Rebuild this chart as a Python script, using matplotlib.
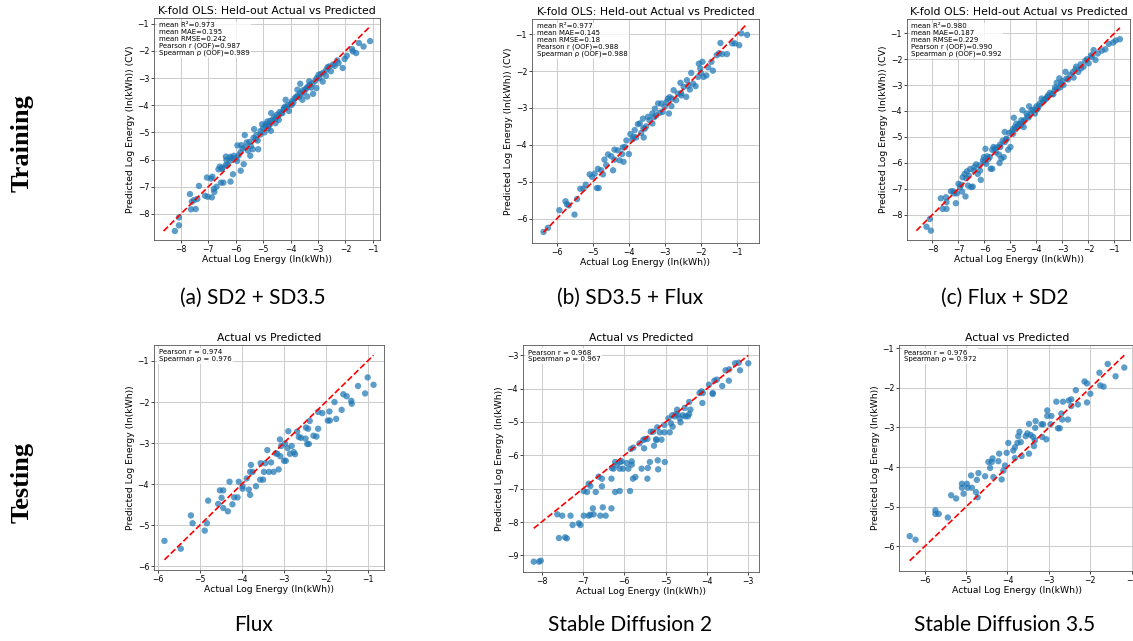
import matplotlib
matplotlib.use('Agg')
import matplotlib.pyplot as plt
import numpy as np

# ---- data (actual, predicted) ----

# (a) SD2 + SD3.5, k-fold held-out
a_actual = [-8.22, -8.07, -8.07, -7.67, -7.63, -7.46, -7.52, -7.34, -7.12, -7.05, -7.02, -6.87, -6.85,
            -6.80, -6.78, -6.70, -6.63, -6.58, -6.54, -6.45, -6.48, -6.36, -6.36, -6.34, -6.19, -6.10,
            -6.21, -6.07, -5.83, -5.82, -5.71, -5.94, -5.80, -5.67, -5.60, -5.55, -5.38, -5.47, -5.28,
            -5.18, -5.10, -5.33, -5.04, -4.92, -4.82, -4.72, -4.74, -4.55, -4.43, -4.30, -4.24, -4.71,
            -4.06, -4.18, -3.96, -3.81, -3.75, -3.65, -3.57, -3.39, -3.32, -3.18, -3.06, -2.98, -2.83,
            -2.71, -2.59, -2.53, -2.39, -2.25, -2.10, -1.95, -2.03, -1.73, -1.61, -1.51, -1.34, -1.10,
            -1.76,
            -5.90, -5.75, -5.65, -5.50, -5.45, -5.35, -5.25, -5.20, -5.10, -5.00, -4.95, -4.90, -4.85,
            -4.80, -4.75, -4.65, -4.60, -4.55, -4.50, -4.45, -4.40, -4.35, -4.25, -4.20, -4.15, -4.10,
            -4.00, -3.95, -3.90, -3.85, -3.75, -3.70, -3.65, -3.60, -3.55, -3.50, -3.45, -3.40, -3.35,
            -3.30, -3.25, -3.20, -3.10, -3.05, -2.95, -2.90, -2.80, -2.70, -2.65, -2.45, -2.30, -6.30,
            -6.15, -6.00, -5.95, -6.20, -6.50, -7.60, -7.40, -6.90]
a_pred = [-8.63, -8.42, -8.13, -7.27, -7.83, -7.82, -7.49, -6.97, -7.33, -6.66, -7.37, -7.39, -6.63,
          -7.08, -7.19, -7.00, -6.36, -6.26, -6.85, -6.85, -6.30, -6.20, -5.89, -6.01, -6.81, -6.54,
          -6.04, -5.86, -5.73, -6.41, -6.17, -5.48, -5.47, -5.10, -5.37, -5.67, -5.62, -5.86, -5.25,
          -5.62, -5.08, -4.88, -4.70, -4.76, -4.85, -4.94, -4.57, -4.66, -4.54, -4.29, -4.11, -4.29,
          -4.21, -3.80, -3.99, -3.71, -3.43, -3.21, -3.80, -3.68, -3.12, -3.58, -3.37, -2.88, -3.13,
          -2.92, -2.57, -2.75, -2.55, -2.45, -2.63, -2.18, -2.30, -2.02, -2.08, -1.71, -1.84, -1.64,
          -1.93,
          -5.85, -5.60, -5.55, -5.35, -5.50, -5.20, -5.10, -5.30, -4.95, -4.85, -5.00, -4.70, -4.60,
          -4.75, -4.70, -4.55, -4.45, -4.50, -4.35, -4.40, -4.25, -4.30, -4.15, -4.05, -4.10, -4.00,
          -3.95, -3.85, -3.90, -3.75, -3.65, -3.70, -3.55, -3.60, -3.45, -3.50, -3.40, -3.35, -3.30,
          -3.25, -3.35, -3.20, -3.10, -3.00, -3.00, -2.85, -2.80, -2.70, -2.60, -2.50, -2.35, -6.20,
          -5.95, -5.95, -6.05, -5.90, -6.35, -7.55, -7.45, -6.70]

# (b) SD3.5 + Flux, k-fold held-out
b_actual = [-6.37, -6.25, -5.93, -5.76, -5.72, -5.67, -5.51, -5.44, -5.35, -5.26, -5.20, -5.09, -5.02,
            -4.95, -4.89, -4.84, -4.86, -4.77, -4.72, -4.68, -4.63, -4.58, -4.49, -4.44, -4.40, -4.31,
            -4.26, -4.19, -4.17, -4.15, -4.11, -4.07, -4.00, -3.96, -3.87, -3.84, -3.80, -3.75, -3.70,
            -3.66, -3.59, -3.61, -3.56, -3.52, -3.47, -3.43, -3.35, -3.35, -3.28, -3.24, -3.19, -3.15,
            -3.10, -3.07, -3.01, -2.96, -2.92, -2.89, -2.87, -2.82, -2.76, -2.69, -2.64, -2.57, -2.55,
            -2.48, -2.41, -2.39, -2.31, -2.27, -2.22, -2.15, -2.08, -2.06, -2.02, -1.96, -1.93, -1.85,
            -1.71, -1.67, -1.56, -1.50, -1.46, -1.41, -1.28, -1.13, -1.06, -0.94, -0.88, -0.72,
            -3.90, -3.30, -2.80, -2.55, -2.35, -2.00, -1.80, -4.40, -3.60]
b_pred = [-6.36, -6.25, -5.77, -5.53, -5.61, -5.64, -5.89, -5.47, -5.19, -5.19, -5.08, -4.80, -4.87,
          -4.78, -5.17, -5.17, -4.65, -4.69, -4.80, -4.40, -4.55, -4.26, -4.31, -4.69, -4.13, -4.15,
          -4.42, -4.25, -4.07, -4.46, -4.06, -3.88, -4.25, -3.71, -3.78, -3.60, -3.80, -3.44, -3.42,
          -3.68, -3.80, -3.29, -3.56, -3.50, -3.24, -3.33, -3.15, -3.42, -3.02, -3.20, -2.88, -3.13,
          -2.88, -3.11, -2.97, -2.84, -2.75, -3.15, -2.71, -2.95, -2.52, -2.79, -2.61, -2.32, -2.66,
          -2.43, -2.70, -2.25, -2.50, -2.05, -2.34, -2.41, -2.16, -1.80, -1.93, -1.75, -2.16, -2.12,
          -1.75, -1.99, -1.57, -1.52, -1.24, -1.54, -1.54, -1.25, -1.25, -1.30, -0.98, -1.02,
          -3.85, -3.25, -2.75, -2.60, -2.40, -2.05, -1.90, -4.40, -3.55]

# (c) Flux + SD2, k-fold held-out
c_actual = [-8.23, -8.10, -8.06, -7.68, -7.61, -7.48, -7.46, -7.46, -7.29, -7.16, -7.10, -7.06, -7.00,
            -6.94, -6.86, -6.84, -6.76, -6.73, -6.67, -6.63, -6.55, -6.51, -6.45, -6.39, -6.32, -6.26,
            -6.19, -6.14, -6.17, -6.06, -6.02, -5.96, -5.93, -5.80, -5.76, -5.70, -5.65, -5.57, -5.44,
            -5.42, -5.35, -5.26, -5.39, -5.22, -5.16, -5.09, -5.00, -5.22, -4.90, -4.83, -4.87, -4.77,
            -4.64, -4.58, -4.49, -4.38, -4.28, -4.19, -4.54, -4.06, -4.00, -3.87, -3.80, -3.71, -3.58,
            -3.48, -3.35, -3.28, -3.22, -3.12, -3.09, -2.96, -2.88, -2.78, -2.70, -2.57, -2.47, -2.39,
            -2.19, -1.99, -1.86, -1.73, -1.64, -1.48, -1.35, -1.22, -1.05, -0.95, -0.79, -2.29, -2.12,
            -1.80,
            -6.00, -5.90, -5.85, -5.60, -5.50, -5.30, -5.15, -5.05, -4.95, -4.90, -4.80, -4.70, -4.65,
            -4.50, -4.45, -4.35, -4.30, -4.20, -4.10, -3.95, -3.90, -3.75, -3.65, -3.60, -3.55, -3.40,
            -3.30, -3.20, -3.05, -3.00, -2.85, -2.60, -2.50, -2.30, -2.05, -1.90, -6.60, -6.40, -6.70,
            -6.90, -7.20, -5.70, -5.40, -4.60, -4.00]
c_pred = [-8.47, -8.17, -8.62, -7.37, -7.78, -7.33, -7.52, -7.78, -7.10, -7.18, -7.56, -7.18, -6.81,
          -6.94, -7.11, -6.56, -6.43, -7.30, -6.33, -6.88, -6.24, -6.94, -6.92, -6.17, -6.06, -6.43,
          -6.10, -6.66, -6.30, -5.91, -5.78, -5.46, -6.04, -5.78, -6.23, -6.23, -5.39, -5.59, -5.68,
          -6.01, -5.84, -5.78, -5.39, -5.20, -5.07, -5.50, -5.39, -4.81, -4.88, -4.62, -4.26, -4.49,
          -4.51, -4.36, -4.62, -4.10, -3.82, -3.97, -3.97, -4.10, -3.82, -3.71, -3.52, -3.58, -3.45,
          -3.30, -3.35, -3.09, -2.91, -2.74, -3.09, -3.00, -2.49, -2.78, -2.61, -2.71, -2.29, -2.49,
          -2.29, -2.16, -1.90, -2.03, -1.78, -1.67, -1.62, -1.41, -1.36, -1.28, -1.23, -2.36, -2.06,
          -1.65,
          -5.95, -5.75, -5.85, -5.45, -5.40, -5.15, -5.10, -4.85, -4.80, -4.70, -4.70, -4.60, -4.50,
          -4.40, -4.35, -4.20, -4.25, -4.10, -3.95, -3.90, -3.80, -3.65, -3.55, -3.50, -3.40, -3.35,
          -3.20, -3.15, -2.95, -2.85, -2.75, -2.50, -2.40, -2.20, -2.00, -1.85, -6.50, -6.30, -6.60,
          -6.85, -7.10, -5.50, -5.30, -4.55, -3.95]

# Flux, testing
d_actual = [-5.84, -5.45, -5.21, -5.17, -4.88, -4.83, -4.80, -4.56, -4.52, -4.48, -4.44, -4.44, -4.33,
            -4.29, -4.22, -4.18, -4.10, -4.07, -3.98, -3.98, -3.88, -3.83, -3.80, -3.78, -3.80, -3.74,
            -3.66, -3.56, -3.55, -3.49, -3.47, -3.44, -3.39, -3.35, -3.30, -3.24, -3.19, -3.15, -3.12,
            -3.09, -3.08, -3.06, -2.99, -2.97, -2.95, -2.91, -2.89, -2.85, -2.81, -2.76, -2.73, -2.68,
            -2.64, -2.59, -2.48, -2.47, -2.44, -2.42, -2.40, -2.38, -2.29, -2.22, -2.18, -2.18, -2.08,
            -1.95, -1.90, -1.91, -1.79, -1.75, -1.62, -1.58, -1.50, -1.39, -1.38, -1.23, -1.06, -1.00,
            -0.86]
d_pred = [-5.38, -5.57, -4.76, -4.95, -5.13, -4.95, -4.40, -4.48, -4.15, -4.33, -4.15, -4.58, -4.66,
          -3.94, -4.49, -4.32, -4.32, -3.94, -4.11, -4.05, -3.86, -4.13, -4.26, -3.53, -3.70, -3.70,
          -4.05, -3.89, -3.49, -3.89, -3.70, -3.49, -3.17, -3.70, -3.47, -3.70, -3.25, -3.26, -3.64,
          -2.91, -3.32, -3.07, -3.43, -3.01, -3.43, -3.12, -2.71, -3.26, -3.07, -3.22, -3.27, -2.72,
          -2.85, -2.87, -2.89, -2.62, -3.02, -2.65, -3.02, -2.46, -2.82, -2.84, -2.24, -2.65, -2.27,
          -2.45, -2.45, -2.23, -2.00, -2.41, -2.19, -1.81, -1.86, -1.97, -2.04, -1.61, -1.79, -1.40,
          -1.58]

# Stable Diffusion 2, testing
e_actual = [-8.19, -8.06, -8.02, -7.58, -7.43, -7.39, -7.62, -7.50, -7.30, -7.25, -7.10, -7.06, -6.98,
            -6.98, -6.90, -6.86, -6.82, -6.76, -6.74, -6.69, -6.86, -6.82, -6.62, -6.58, -6.54, -6.52,
            -6.54, -6.45, -6.31, -6.31, -6.30, -6.26, -6.22, -6.22, -6.18, -6.11, -6.11, -6.10, -6.06,
            -6.03, -5.94, -5.90, -5.86, -5.84, -5.82, -5.82, -5.79, -5.78, -5.73, -5.63, -5.58, -5.54,
            -5.52, -5.50, -5.44, -5.44, -5.43, -5.38, -5.36, -5.30, -5.28, -5.23, -5.22, -5.20, -5.18,
            -5.19, -5.14, -5.10, -5.03, -5.03, -5.02, -4.93, -4.90, -4.87, -4.84, -4.83, -4.78, -4.75,
            -4.72, -4.70, -4.66, -4.64, -4.58, -4.54, -4.52, -4.46, -4.43, -4.40, -4.43, -4.18, -4.13,
            -4.10, -4.11, -3.95, -3.86, -3.86, -3.82, -3.76, -3.63, -3.55, -3.47, -3.46, -3.32, -3.23,
            -3.20, -3.00]
e_pred = [-9.19, -9.19, -9.16, -8.48, -8.46, -8.49, -7.77, -7.81, -7.81, -8.09, -8.04, -8.09, -7.07,
          -7.81, -7.10, -7.81, -7.78, -7.59, -7.77, -7.10, -6.85, -6.92, -6.64, -7.81, -6.93, -7.56,
          -6.70, -7.81, -6.70, -7.59, -6.38, -6.40, -7.10, -6.20, -6.28, -7.07, -6.40, -6.20, -6.18,
          -6.40, -6.23, -6.40, -7.07, -5.81, -6.18, -6.28, -6.70, -5.77, -6.65, -5.64, -6.40, -5.54,
          -5.79, -5.51, -5.51, -6.70, -6.38, -6.20, -5.29, -5.29, -5.71, -5.52, -5.54, -5.16, -6.42,
          -6.15, -5.31, -5.53, -5.31, -5.09, -6.20, -4.89, -5.31, -5.04, -4.80, -5.14, -4.83, -4.76,
          -4.63, -4.78, -4.89, -5.01, -4.80, -4.58, -4.83, -4.83, -4.40, -4.63, -4.76, -4.13, -4.08,
          -4.13, -4.43, -3.88, -4.16, -4.13, -3.76, -3.73, -3.92, -3.45, -3.76, -3.42, -3.24, -3.22,
          -3.45, -3.24]

# Stable Diffusion 3.5, testing
f_actual = [-6.36, -6.22, -5.74, -5.74, -5.66, -5.44, -5.36, -5.24, -5.10, -5.10, -5.06, -4.98, -4.96,
            -4.88, -4.86, -4.76, -4.74, -4.72, -4.70, -4.54, -4.46, -4.42, -4.38, -4.36, -4.34, -4.22,
            -4.20, -4.14, -4.10, -4.06, -4.02, -3.98, -3.86, -3.82, -3.82, -3.76, -3.74, -3.71, -3.68,
            -3.66, -3.56, -3.52, -3.48, -3.48, -3.44, -3.38, -3.36, -3.34, -3.33, -3.32, -3.18, -3.16,
            -3.14, -3.06, -3.04, -3.04, -2.94, -2.96, -2.82, -2.78, -2.74, -2.70, -2.68, -2.66, -2.54,
            -2.52, -2.46, -2.46, -2.35, -2.30, -2.14, -2.08, -2.08, -2.00, -1.78, -1.76, -1.68, -1.58,
            -1.39, -1.18]
f_pred = [-5.74, -5.83, -5.09, -5.18, -5.18, -5.27, -4.71, -4.79, -4.42, -4.52, -4.67, -4.42, -4.52,
          -4.21, -4.52, -4.63, -4.32, -4.76, -4.15, -4.23, -3.87, -4.02, -3.87, -3.78, -4.25, -3.85,
          -3.66, -4.31, -4.09, -3.96, -3.64, -3.39, -3.58, -3.50, -3.77, -3.39, -3.22, -3.11, -3.37,
          -3.72, -3.22, -3.15, -2.91, -3.66, -3.19, -3.24, -3.47, -3.33, -3.01, -2.84, -2.92, -3.24,
          -2.92, -3.30, -2.57, -2.71, -2.71, -2.92, -2.35, -3.02, -3.02, -2.65, -2.80, -2.35, -2.80,
          -2.32, -2.46, -2.29, -2.06, -2.42, -1.84, -1.89, -2.37, -2.15, -1.62, -1.94, -1.97, -1.40,
          -1.71, -1.49]

train_stats = [
    "mean R\u00b2=0.973\nmean MAE=0.195\nmean RMSE=0.242\nPearson r (OOF)=0.987\nSpearman \u03c1 (OOF)=0.989",
    "mean R\u00b2=0.977\nmean MAE=0.145\nmean RMSE=0.18\nPearson r (OOF)=0.988\nSpearman \u03c1 (OOF)=0.988",
    "mean R\u00b2=0.980\nmean MAE=0.187\nmean RMSE=0.229\nPearson r (OOF)=0.990\nSpearman \u03c1 (OOF)=0.992",
]
test_stats = [
    "Pearson r = 0.974\nSpearman \u03c1 = 0.976",
    "Pearson r = 0.968\nSpearman \u03c1 = 0.967",
    "Pearson r = 0.976\nSpearman \u03c1 = 0.972",
]
train_captions = ["(a) SD2 + SD3.5", "(b) SD3.5 + Flux", "(c) Flux + SD2"]
test_captions = ["Flux", "Stable Diffusion 2", "Stable Diffusion 3.5"]

# axis ranges as seen in the reference (training row only, test row autoscaled)
train_xlim = [(-8.98, -0.74), (-6.69, -0.39), (-8.98, -0.40)]
train_ylim = [(-8.96, -0.79), (-6.66, -0.59), (-8.98, -0.45)]

W, H = 1133, 641


def px_axes(fig, left, right, top, bottom):
    # pixel box (top-left origin) -> figure fraction axes
    return fig.add_axes([left / W, 1 - bottom / H, (right - left) / W, (bottom - top) / H])


def scatter_panel(ax, actual, pred, title, ylabel, stats, train=True, xlim=None, ylim=None):
    actual = np.array(actual)
    pred = np.array(pred)
    ax.scatter(actual, pred, s=21, alpha=0.72, color='#1f77b4', edgecolors='none', zorder=3)
    if train:
        lo = min(actual.min(), pred.min())
        hi = max(actual.max(), pred.max())
    else:
        lo, hi = actual.min(), actual.max()
    ax.plot([lo, hi], [lo, hi], 'r--', lw=1.2, zorder=4)
    if xlim is not None:
        ax.set_xlim(xlim)
    if ylim is not None:
        ax.set_ylim(ylim)
    ax.set_title(title, fontsize=7.8, pad=3)
    ax.set_xlabel('Actual Log Energy (ln(kWh))', fontsize=6.7, labelpad=1)
    ax.set_ylabel(ylabel, fontsize=6.7, labelpad=2)
    ax.grid(True, color='#cccccc', lw=0.7)
    ax.set_axisbelow(True)
    ax.tick_params(labelsize=5.6, length=2, width=0.5, pad=1.5)
    for s in ax.spines.values():
        s.set_linewidth(0.6)
        s.set_color('#555555')
    ax.text(0.02, 0.98, stats, transform=ax.transAxes, va='top', ha='left', fontsize=5,
            linespacing=1.15, zorder=5,
            bbox=dict(facecolor='white', alpha=0.8, edgecolor='none', pad=1))


fig = plt.figure(figsize=(W / 100, H / 100), dpi=100)

train_boxes = [(154, 380, 18, 240), (532, 759, 19, 243), (907, 1130, 19, 240)]
test_boxes = [(154, 384, 345, 570), (523, 759, 345, 572), (899, 1135, 345, 571)]
train_data = [(a_actual, a_pred), (b_actual, b_pred), (c_actual, c_pred)]
test_data = [(d_actual, d_pred), (e_actual, e_pred), (f_actual, f_pred)]
cap_x = [253, 630, 1005]

for i in range(3):
    ax = px_axes(fig, *train_boxes[i])
    scatter_panel(ax, train_data[i][0], train_data[i][1], 'K-fold OLS: Held-out Actual vs Predicted',
                  'Predicted Log Energy (ln(kWh)) (CV)', train_stats[i], train=True,
                  xlim=train_xlim[i], ylim=train_ylim[i])
    ax = px_axes(fig, *test_boxes[i])
    scatter_panel(ax, test_data[i][0], test_data[i][1], 'Actual vs Predicted',
                  'Predicted Log Energy (ln(kWh))', test_stats[i], train=False)
    fig.text(cap_x[i] / W, 1 - 298 / H, train_captions[i], ha='center', va='center',
             fontsize=15, family='Lato')
    fig.text(cap_x[i] / W, 1 - 625 / H, test_captions[i], ha='center', va='center',
             fontsize=15, family='Lato')

fig.text(22 / W, 1 - 143 / H, 'Training', rotation=90, ha='center', va='center',
         fontsize=19, fontweight='bold', family='Liberation Serif')
fig.text(22 / W, 1 - 482 / H, 'Testing', rotation=90, ha='center', va='center',
         fontsize=19, fontweight='bold', family='Liberation Serif')

fig.savefig('out.png', dpi=100)
